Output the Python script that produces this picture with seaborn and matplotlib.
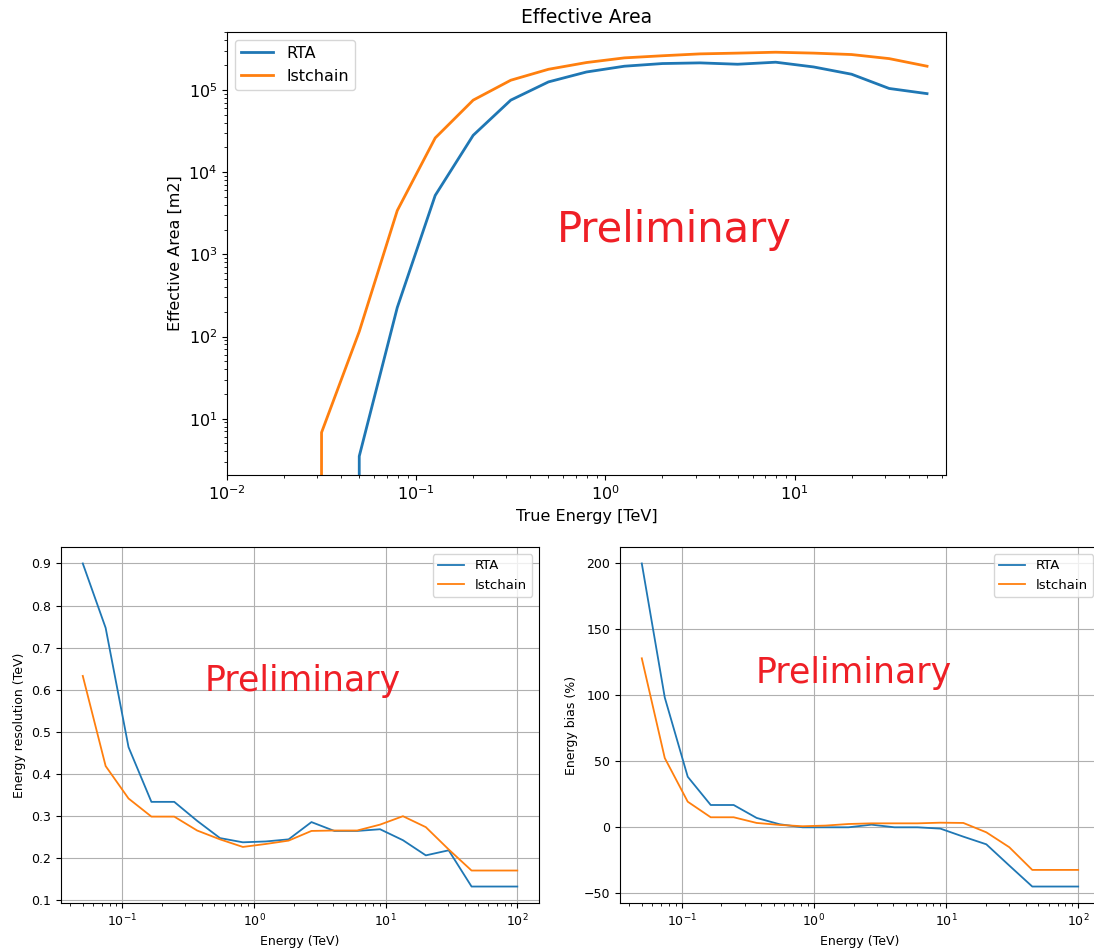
import matplotlib
matplotlib.use('Agg')
import matplotlib.pyplot as plt
import seaborn as sns

# effective area (m2) vs true energy (TeV); zeros are below threshold
aeff_energy = [0.0126, 0.02, 0.0316, 0.05, 0.0794, 0.126, 0.2, 0.316, 0.5, 0.794,
               1.26, 2.0, 3.16, 5.0, 7.94, 12.6, 20.0, 31.6, 50.1]
aeff_rta = [0, 0, 0, 3.5, 225, 5200, 2.8e4, 7.5e4, 1.25e5, 1.65e5,
            1.94e5, 2.09e5, 2.13e5, 2.05e5, 2.17e5, 1.9e5, 1.55e5, 1.04e5, 9.0e4]
aeff_lst = [0, 0, 6.8, 115, 3400, 2.6e4, 7.5e4, 1.31e5, 1.78e5, 2.15e5,
            2.45e5, 2.6e5, 2.74e5, 2.8e5, 2.87e5, 2.8e5, 2.69e5, 2.4e5, 1.94e5]

# energy resolution and bias vs energy (TeV)
energy = [0.05, 0.0746, 0.1113, 0.1661, 0.2477, 0.3696, 0.5514, 0.8225, 1.227, 1.831,
          2.731, 4.075, 6.079, 9.07, 13.53, 20.19, 30.12, 44.93, 67.03, 100.0]
eres_rta = [0.90, 0.747, 0.464, 0.334, 0.334, 0.289, 0.248, 0.238, 0.240, 0.245,
            0.286, 0.265, 0.265, 0.269, 0.243, 0.207, 0.219, 0.133, 0.133, 0.133]
eres_lst = [0.633, 0.419, 0.342, 0.299, 0.299, 0.266, 0.245, 0.227, 0.234, 0.242,
            0.265, 0.266, 0.266, 0.280, 0.300, 0.274, 0.221, 0.171, 0.171, 0.171]
ebias_rta = [200, 98.4, 38.3, 16.9, 16.9, 7.1, 2.3, 0.0, 0.0, 0.0,
             2.0, 0.0, 0.0, -1.0, -7.1, -12.9, -29.0, -44.9, -44.9, -44.9]
ebias_lst = [128.1, 52.5, 19.4, 7.6, 7.6, 3.3, 1.8, 0.8, 1.3, 2.5,
             3.0, 3.0, 3.0, 3.5, 3.3, -3.8, -15.1, -32.3, -32.3, -32.3]

prelim_color = '#ef1f26'

fig = plt.figure(figsize=(10.94, 9.49), dpi=100)

# top: effective area
ax = fig.add_axes([0.2075, 0.4995, 0.6572, 0.4671])
sns.lineplot(x=aeff_energy, y=aeff_rta, label='RTA', estimator=None, lw=2, ax=ax)
sns.lineplot(x=aeff_energy, y=aeff_lst, label='lstchain', estimator=None, lw=2, ax=ax)
ax.set_xscale('log')
ax.set_yscale('log')
ax.set_xlim(0.01, 10**1.8)
ax.set_ylim(2.07, 5.1e5)
ax.set_title('Effective Area', fontsize=13.5)
ax.set_xlabel('True Energy [TeV]', fontsize=11.5)
ax.set_ylabel('Effective Area [m2]', fontsize=11.5)
ax.tick_params(labelsize=11.5)
ax.legend(loc='upper left', fontsize=11.5)
ax.text(0.622, 0.553, 'Preliminary', transform=ax.transAxes, ha='center', va='center',
        fontsize=30, color=prelim_color)

# bottom left: energy resolution
ax1 = fig.add_axes([0.0558, 0.0488, 0.4369, 0.3745])
sns.lineplot(x=energy, y=eres_rta, label='RTA', estimator=None, lw=1.3, ax=ax1)
sns.lineplot(x=energy, y=eres_lst, label='lstchain', estimator=None, lw=1.3, ax=ax1)
ax1.set_xscale('log')
ax1.grid(True)
ax1.set_xlabel('Energy (TeV)', fontsize=9)
ax1.set_ylabel('Energy resolution (TeV)', fontsize=9)
ax1.tick_params(labelsize=9)
ax1.legend(loc='upper right', fontsize=9.5)
ax1.text(0.506, 0.625, 'Preliminary', transform=ax1.transAxes, ha='center', va='center',
         fontsize=25, color=prelim_color)

# bottom right: energy bias
ax2 = fig.add_axes([0.5667, 0.0488, 0.4388, 0.3745])
sns.lineplot(x=energy, y=ebias_rta, label='RTA', estimator=None, lw=1.3, ax=ax2)
sns.lineplot(x=energy, y=ebias_lst, label='lstchain', estimator=None, lw=1.3, ax=ax2)
ax2.set_xscale('log')
ax2.grid(True)
ax2.set_xlabel('Energy (TeV)', fontsize=9)
ax2.set_ylabel('Energy bias (%)', fontsize=9)
ax2.tick_params(labelsize=9)
ax2.legend(loc='upper right', fontsize=9.5)
ax2.text(0.486, 0.646, 'Preliminary', transform=ax2.transAxes, ha='center', va='center',
         fontsize=25, color=prelim_color)

fig.savefig('out.png', dpi=100)
